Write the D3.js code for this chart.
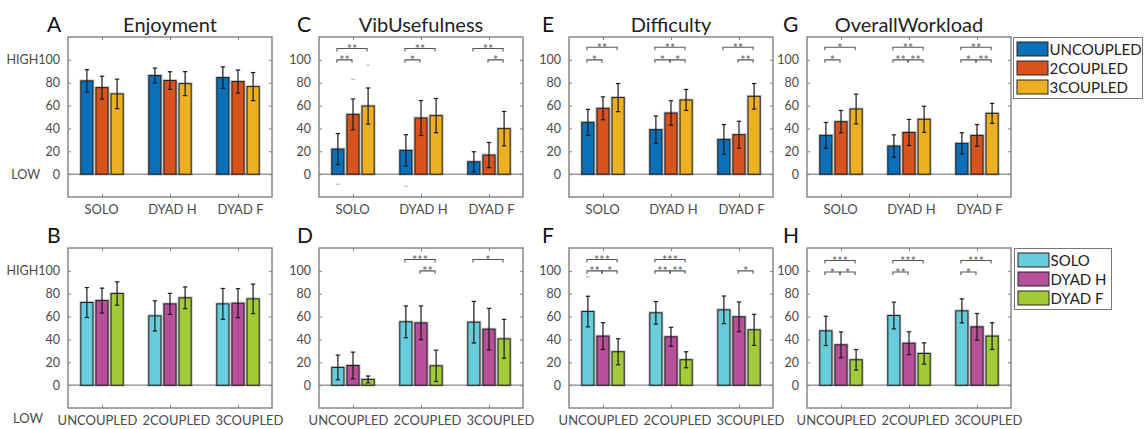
<!DOCTYPE html>
<html><head><meta charset="utf-8">
<script src="https://cdn.jsdelivr.net/npm/d3@7"></script>
<style>
html,body{margin:0;padding:0;background:#fff;}
svg text{font-family:Lato,"Open Sans",sans-serif;}
</style></head>
<body><svg id="chart" width="1144" height="429"></svg>
<script>
// ---------- DATA ----------
const groupsTop = ["SOLO", "DYAD H", "DYAD F"];
const seriesTop = ["UNCOUPLED", "2COUPLED", "3COUPLED"];
const groupsBottom = ["UNCOUPLED", "2COUPLED", "3COUPLED"];
const seriesBottom = ["SOLO", "DYAD H", "DYAD F"];
const colorsTop = ["#0A70BA", "#D9531E", "#ECB022"];
const colorsBottom = ["#67CCDB", "#B84F9B", "#A3CB38"];
const yTickValues = [0, 20, 40, 60, 80, 100];
const yTickLabelsHL = ["LOW\u00a0\u00a0\u00a0\u00a00", "20", "40", "60", "80", "HIGH100"];
const yTickLabelsHB = ["0", "20", "40", "60", "80", "HIGH100"];
const yTickLabelsPlain = ["0", "20", "40", "60", "80", "100"];
const lowLabelB = "LOW";
const titles = ["Enjoyment", "VibUsefulness", "Difficulty", "OverallWorkload"];
const lettersTop = ["A", "C", "E", "G"];
const lettersBottom = ["B", "D", "F", "H"];

// means[group][series], errs[group][series]
const enjoymentMean = [[81.6, 75.7, 70.2], [86.3, 81.9, 79.2], [84.5, 81.0, 76.6]];
const enjoymentErr  = [[9.8, 10.0, 12.9], [6.5, 7.7, 10.5], [9.4, 10.1, 12.3]];
const vibMean = [[21.9, 52.3, 59.6], [20.8, 49.1, 51.2], [10.8, 16.7, 39.8]];
const vibErr  = [[13.6, 13.5, 15.8], [13.7, 15.3, 15.0], [8.8, 11.0, 15.0]];
const difficultyMean = [[45.3, 57.6, 67.0], [38.9, 53.5, 64.9], [30.4, 34.5, 68.1]];
const difficultyErr  = [[11.4, 10.0, 12.3], [12.0, 10.7, 9.2], [13.0, 11.8, 11.2]];
const workloadMean = [[33.9, 45.9, 57.0], [24.6, 36.5, 48.0], [26.9, 33.9, 53.2]];
const workloadErr  = [[11.3, 9.8, 13.0], [9.8, 11.4, 11.4], [9.3, 9.5, 8.8]];

const enjoymentMeanB = [[72.3, 74.0, 80.2], [60.6, 71.1, 76.4], [71.1, 71.7, 75.5]];
const enjoymentErrB  = [[13.1, 10.9, 10.2], [13.2, 9.2, 9.5], [13.5, 12.7, 12.9]];
const vibMeanB = [[15.5, 17.2, 5.0], [55.4, 54.5, 16.9], [55.1, 49.0, 40.5]];
const vibErrB  = [[10.8, 11.7, 3.0], [13.9, 14.8, 13.7], [18.2, 18.2, 17.0]];
const difficultyMeanB = [[64.4, 42.9, 29.2], [63.3, 42.3, 22.2], [65.9, 59.8, 48.4]];
const difficultyErrB  = [[13.4, 11.7, 11.4], [9.9, 8.3, 7.0], [12.1, 13.0, 13.6]];
const workloadMeanB = [[47.5, 35.3, 22.2], [60.9, 36.7, 27.7], [65.0, 51.0, 42.9]];
const workloadErrB  = [[12.8, 11.3, 9.0], [11.7, 10.0, 9.3], [10.5, 11.7, 11.7]];

// significance: [group, seriesFrom, seriesTo, level, stars]
const enjoymentSig = [];
const vibSig = [[0,0,1,100,"**"],[0,0,2,110,"**"],[1,0,1,100,"*"],[1,0,2,110,"**"],[2,0,2,110,"**"],[2,1,2,100,"*"]];
const difficultySig = [[0,0,1,100,"*"],[0,0,2,111,"**"],[1,0,1,100,"*"],[1,1,2,100,"*"],[1,0,2,111,"**"],[2,0,2,111,"**"],[2,1,2,100,"**"]];
const workloadSig = [[0,0,1,100,"*"],[0,0,2,111,"*"],[1,0,1,100,"**"],[1,1,2,100,"**"],[1,0,2,111,"**"],[2,0,1,100,"*"],[2,1,2,100,"**"],[2,0,2,111,"**"]];
const enjoymentSigB = [];
const vibSigB = [[1,0,2,110,"***"],[1,1,2,100,"**"],[2,0,2,110,"*"]];
const difficultySigB = [[0,0,2,110,"***"],[0,0,1,100,"**"],[0,1,2,100,"*"],[1,0,2,110,"***"],[1,0,1,100,"**"],[1,1,2,100,"**"],[2,1,2,100,"*"]];
const workloadSigB = [[0,0,2,109,"***"],[0,0,1,99,"*"],[0,1,2,99,"*"],[1,0,2,109,"***"],[1,0,1,99,"**"],[2,0,2,109,"***"],[2,0,1,99,"*"]];

// stray dash markers: [group, series, value]
const vibDashes = [[0,0,-8.8],[0,1,83],[0,2,95.3],[1,0,-10.5]];
const difficultyDashesB = [[0,0,94.8]];

// ---------- LAYOUT ----------
const panelLeft = [68, 319, 569, 807];
const rowTop = [37, 248];
const PW = 204, PH = 160;
const letterX = [47, 297, 542, 783];
const xLabelShiftTop = [-1, 2, 2];
const xLabelShiftBottom = [-5, 6, 11];

const svg = d3.select("#chart");
const AXC = "#808080", TXC = "#4a4a4a";

function drawPanel(p) {
  const g = svg.append("g").attr("transform", `translate(${p.x},${p.y})`);
  const x = d3.scaleLinear().domain([0.5, 3.5]).range([0, PW]);
  const y = d3.scaleLinear().domain([-20, 120]).range([PH, 0]);
  const offset = 0.2222, bw = x(0.178) - x(0);
  const cx = (gi, si) => x(gi + 1 + (si - 1) * offset);

  // zero line
  g.append("line").attr("x1", 0).attr("x2", PW).attr("y1", y(0)).attr("y2", y(0))
    .attr("stroke", "#8a8a8a").attr("stroke-width", 1.2);

  // bars
  p.mean.forEach((row, gi) => row.forEach((v, si) => {
    const rx = cx(gi, si) - bw / 2;
    g.append("rect").attr("x", rx).attr("y", y(v)).attr("width", bw).attr("height", y(0) - y(v))
      .attr("fill", "none").attr("stroke", "rgba(0,0,0,0.22)").attr("stroke-width", 3);
    g.append("rect").attr("x", rx).attr("y", y(v)).attr("width", bw).attr("height", y(0) - y(v))
      .attr("fill", p.colors[si]).attr("stroke", "#1c1c1c").attr("stroke-width", 1);
  }));

  // error bars
  p.mean.forEach((row, gi) => row.forEach((v, si) => {
    const e = p.err[gi][si], c = cx(gi, si);
    const eg = g.append("g").attr("stroke", "#1a1a1a").attr("stroke-width", 1.2);
    eg.append("line").attr("x1", c).attr("x2", c).attr("y1", y(v + e)).attr("y2", y(v - e));
    eg.append("line").attr("x1", c - 2.2).attr("x2", c + 2.2).attr("y1", y(v + e)).attr("y2", y(v + e));
    eg.append("line").attr("x1", c - 2.2).attr("x2", c + 2.2).attr("y1", y(v - e)).attr("y2", y(v - e));
  }));

  // dashes
  (p.dashes || []).forEach(([gi, si, v]) => {
    const c = cx(gi, si);
    g.append("line").attr("x1", c - 1.8).attr("x2", c + 1.8).attr("y1", y(v)).attr("y2", y(v))
      .attr("stroke", "#aaa").attr("stroke-width", 1);
  });

  // significance brackets
  p.sig.forEach(([gi, a, b, lvl, stars]) => {
    const x1 = cx(gi, a) - 1, x2 = cx(gi, b) - 1, yy = y(lvl);
    g.append("path").attr("d", `M${x1},${yy + 3}V${yy}H${x2}V${yy + 3}`)
      .attr("fill", "none").attr("stroke", "#555").attr("stroke-width", 1.1);
    g.append("text").attr("x", (x1 + x2) / 2).attr("y", yy + 5.5).attr("text-anchor", "middle")
      .attr("font-size", 12.5).attr("fill", "#666").text(stars);
  });

  // box
  g.append("rect").attr("x", 0).attr("y", 0).attr("width", PW).attr("height", PH)
    .attr("fill", "none").attr("stroke", AXC).attr("stroke-width", 1.4);

  // y ticks (inner, both sides)
  const yAxisL = d3.axisLeft(y).tickValues(yTickValues).tickSize(-3).tickPadding(8)
    .tickFormat((d, i) => p.yLabels[i]);
  const ax = g.append("g").call(yAxisL);
  ax.select(".domain").remove();
  ax.selectAll("line").attr("stroke", AXC);
  ax.selectAll("text").attr("font-size", 12.5).attr("fill", TXC).attr("font-family", "Lato");
  const yAxisR = d3.axisRight(y).tickValues(yTickValues).tickSize(-3).tickFormat("");
  const axr = g.append("g").attr("transform", `translate(${PW},0)`).call(yAxisR);
  axr.select(".domain").remove();
  axr.selectAll("line").attr("stroke", AXC);

  // x ticks
  const xAxisB = d3.axisBottom(x).tickValues([1, 2, 3]).tickSize(-3).tickPadding(8)
    .tickFormat((d, i) => p.groups[i]);
  const bx = g.append("g").attr("transform", `translate(0,${PH})`).call(xAxisB);
  bx.select(".domain").remove();
  bx.selectAll("line").attr("stroke", AXC);
  bx.selectAll("text").attr("font-size", 13).attr("fill", TXC).attr("font-family", "Lato")
    .attr("dx", (d, i) => p.xShift[i]);
  const xAxisT = d3.axisTop(x).tickValues([1, 2, 3]).tickSize(-3).tickFormat("");
  const tx = g.append("g").call(xAxisT);
  tx.select(".domain").remove();
  tx.selectAll("line").attr("stroke", AXC);

  // title & letter
  if (p.title) {
    g.append("text").attr("x", PW / 2).attr("y", -5).attr("text-anchor", "middle")
      .attr("font-size", 20).attr("fill", "#222").text(p.title);
  }
  svg.append("text").attr("x", p.letterX).attr("y", p.y - 5).attr("font-size", 21)
    .attr("fill", "#111").text(p.letter);
}

const topMeans = [enjoymentMean, vibMean, difficultyMean, workloadMean];
const topErrs = [enjoymentErr, vibErr, difficultyErr, workloadErr];
const topSigs = [enjoymentSig, vibSig, difficultySig, workloadSig];
const botMeans = [enjoymentMeanB, vibMeanB, difficultyMeanB, workloadMeanB];
const botErrs = [enjoymentErrB, vibErrB, difficultyErrB, workloadErrB];
const botSigs = [enjoymentSigB, vibSigB, difficultySigB, workloadSigB];

for (let i = 0; i < 4; i++) {
  drawPanel({ x: panelLeft[i], y: rowTop[0], mean: topMeans[i], err: topErrs[i], sig: topSigs[i],
    colors: colorsTop, groups: groupsTop, yLabels: i === 0 ? yTickLabelsHL : yTickLabelsPlain,
    xShift: xLabelShiftTop,
    title: titles[i], letter: lettersTop[i], letterX: letterX[i], dashes: i === 1 ? vibDashes : [] });
  drawPanel({ x: panelLeft[i], y: rowTop[1], mean: botMeans[i], err: botErrs[i], sig: botSigs[i],
    colors: colorsBottom, groups: groupsBottom, yLabels: i === 0 ? yTickLabelsHB : yTickLabelsPlain,
    xShift: xLabelShiftBottom,
    title: null, letter: lettersBottom[i], letterX: letterX[i], dashes: i === 2 ? difficultyDashesB : [] });
}
// stray LOW label in panel B
svg.append("text").attr("x", 13).attr("y", 423).attr("font-size", 13).attr("fill", TXC).text(lowLabelB);

// legends
function legend(x0, y0, w, names, colors) {
  const lg = svg.append("g").attr("transform", `translate(${x0},${y0})`);
  lg.append("rect").attr("width", w).attr("height", 61).attr("fill", "#fff")
    .attr("stroke", "#777").attr("stroke-width", 1);
  names.forEach((n, i) => {
    lg.append("rect").attr("x", 3.5).attr("y", 4.5 + i * 19).attr("width", 31).attr("height", 14)
      .attr("fill", colors[i]).attr("stroke", "#222").attr("stroke-width", 1);
    lg.append("text").attr("x", 36).attr("y", 17 + i * 19).attr("font-size", 15).attr("fill", "#222").text(n);
  });
}
legend(1013.5, 37.5, 129, seriesTop, colorsTop);
legend(1014.5, 248.5, 97, seriesBottom, colorsBottom);
</script></body></html>
